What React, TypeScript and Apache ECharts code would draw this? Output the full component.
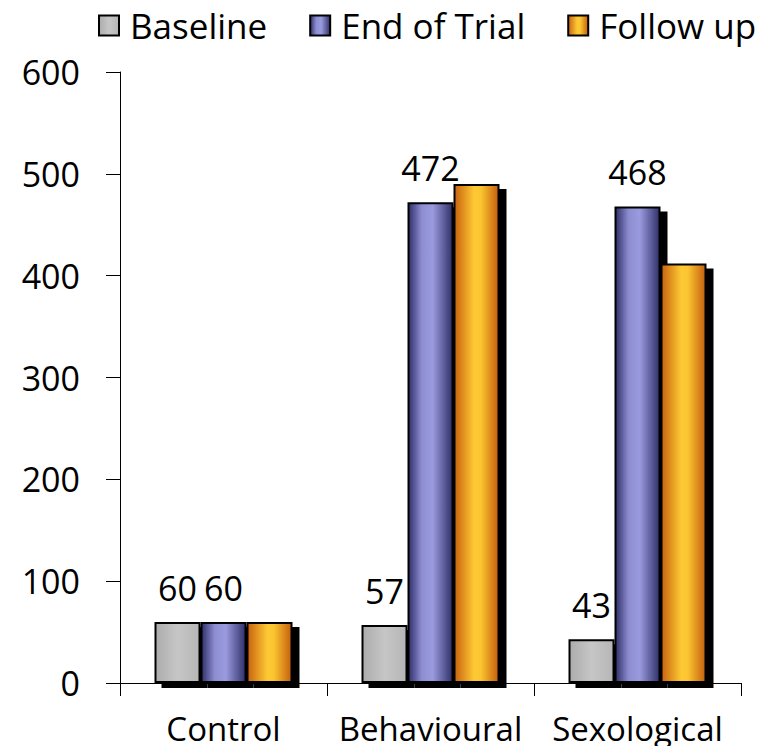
import React, { useEffect, useRef } from "react";
import * as echarts from "echarts";

const categories = ["Control", "Behavioural", "Sexological"];
const seriesNames = ["Baseline", "End of Trial", "Follow up"];
const baseline = [60, 57, 43];
const endOfTrial = [60, 472, 468];
const followUp = [60, 490, 412];
const baselineLabels = [true, true, true];
const endOfTrialLabels = [true, true, true];
const followUpLabels = [false, false, false];

const FONT = "Open Sans";

function grad(stops: [number, string][]) {
  return new echarts.graphic.LinearGradient(
    0, 0, 1, 0,
    stops.map(([offset, color]) => ({ offset, color }))
  );
}

const fills = [
  grad([[0, "#acacac"], [0.5, "#c6c6c6"], [1, "#b6b6b6"]]),
  grad([[0, "#30306a"], [0.3, "#8d8dd2"], [0.55, "#9a9ade"], [1, "#30306a"]]),
  grad([[0, "#c8620f"], [0.45, "#fdc934"], [0.6, "#fbc531"], [1, "#c55e0e"]]),
];

export default function App() {
  const ref = useRef<HTMLDivElement>(null);
  useEffect(() => {
    if (!ref.current) return;
    const chart = echarts.init(ref.current, undefined, { renderer: "svg" });
    const datasets = [baseline, endOfTrial, followUp];
    const labelFlags = [baselineLabels, endOfTrialLabels, followUpLabels];
    const series = datasets.map((vals, si) => ({
      type: "bar" as const,
      name: seriesNames[si],
      barWidth: 46,
      barGap: "0%",
      barCategoryGap: "33%",
      itemStyle: {
        color: fills[si],
        borderColor: "#000",
        borderWidth: 2,
        shadowColor: "#000",
        shadowBlur: 1,
        shadowOffsetX: 7,
        shadowOffsetY: 5,
      },
      label: {
        position: "top" as const,
        distance: 17,
        fontFamily: FONT,
        fontSize: 34,
        color: "#000",
      },
      data: vals.map((v, i) => ({
        value: v,
        label: { show: labelFlags[si][i] },
      })),
    }));
    chart.setOption({
      animation: false,
      textStyle: { fontFamily: FONT },
      legend: {
        top: 8,
        left: 98,
        width: 700,
        padding: 0,
        itemWidth: 20,
        itemHeight: 20,
        itemGap: 42,
        icon: "rect",
        textStyle: { fontFamily: FONT, fontSize: 35, color: "#000", padding: [0, 0, 0, 6] },
        itemStyle: { borderColor: "#000", borderWidth: 2, shadowBlur: 0, shadowOffsetX: 0, shadowOffsetY: 0 },
        data: seriesNames,
      },
      grid: { left: 120, right: 25, top: 72, bottom: 71 },
      xAxis: {
        type: "category",
        data: categories,
        axisLine: { lineStyle: { color: "#000", width: 1 } },
        axisTick: { show: true, length: 13, lineStyle: { color: "#000" } },
        axisLabel: { fontFamily: FONT, fontSize: 33, color: "#000", margin: 29, interval: 0 },
      },
      yAxis: {
        type: "value",
        min: 0,
        max: 600,
        interval: 100,
        splitLine: { show: false },
        axisLine: { show: true, lineStyle: { color: "#000", width: 1 } },
        axisTick: { show: true, length: 14, lineStyle: { color: "#000" } },
        axisLabel: { fontFamily: FONT, fontSize: 34, color: "#000", margin: 40 },
      },
      series,
    });
    return () => chart.dispose();
  }, []);
  return <div ref={ref} style={{ width: 766, height: 754, margin: -8 }} />;
}
